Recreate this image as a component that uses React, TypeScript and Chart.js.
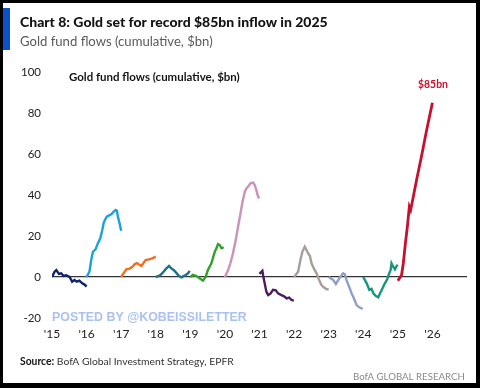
import React, { useEffect, useRef } from 'react';
import { Chart, registerables } from 'chart.js';

Chart.register(...registerables);

// ---- Text ----
const TITLE = 'Chart 8: Gold set for record $85bn inflow in 2025';
const SUBTITLE = 'Gold fund flows (cumulative, $bn)';
const INNER_TITLE = 'Gold fund flows (cumulative, $bn)';
const END_LABEL = '$85bn';
const WATERMARK = 'POSTED BY @KOBEISSILETTER';
const SOURCE_LABEL = 'Source:';
const SOURCE_TEXT = ' BofA Global Investment Strategy, EPFR';
const BRAND = 'BofA GLOBAL RESEARCH';

// ---- Axis ----
const X_MIN = 2015;
const X_MAX = 2027;
const Y_MIN = -20;
const Y_MAX = 100;
const Y_STEP = 20;

// ---- Data: months into each year, cumulative flows ($bn) ----
const months2015 = [0, 0.9, 1.5, 2.4, 3.2, 4.0, 4.9, 6.1, 7.0, 7.8, 8.6, 9.5, 10.5, 11.3, 12];
const flows2015 = [0, 2.6, 3.4, 1.5, 1.8, 0.5, 0.8, 0, -2.3, -1.5, -2.3, -1.8, -3.1, -3.7, -4.7];

const months2016 = [0, 1.0, 1.6, 2.2, 3.1, 3.9, 4.75, 5.45, 5.9, 6.35, 7.0, 8.0, 8.7, 9.4, 10.1, 10.5, 11.0, 11.45, 12];
const flows2016 = [0, 2.6, 8.3, 12.3, 13.5, 16.4, 18.9, 22.9, 26.2, 27.8, 29.4, 30.2, 30.7, 31.9, 32.7, 32.4, 28.6, 26.2, 22.6];

const months2017 = [0, 0.8, 1.8, 2.9, 3.9, 4.7, 5.5, 6.4, 7.1, 7.8, 8.5, 9.6, 10.8, 12];
const flows2017 = [0, 1.8, 3.7, 4.1, 5.0, 6.3, 6.8, 5.9, 5.4, 7.0, 8.3, 8.6, 9.1, 9.9];

const months2018 = [0, 1.1, 1.9, 2.7, 3.7, 4.6, 5.4, 6.2, 7.15, 8.05, 8.9, 9.45, 10.4, 11.2, 11.8];
const flows2018 = [0, 0.5, 1.3, 2.6, 4.2, 5.4, 4.2, 3.4, 2.0, 0.5, -0.2, 0.3, 1.0, 1.8, 3.0];

const months2019 = [0, 0.9, 2.1, 3.2, 4.4, 5.3, 6.1, 7.3, 7.9, 8.5, 9.05, 9.6, 10.2, 10.8, 11.6];
const flows2019 = [0, 1.0, 0.5, -0.6, -1.8, 0, 3.4, 6.7, 9.6, 12.4, 14.0, 16.1, 15.6, 14.0, 14.5];

const months2020 = [0, 1.1, 1.9, 2.8, 3.75, 4.55, 5.4, 6.1, 6.9, 7.5, 8.0, 8.9, 9.8, 10.35, 10.9, 11.5, 12];
const flows2020 = [0, 3.4, 6.7, 11.6, 18, 24.5, 31, 36.7, 41.6, 43.3, 44, 45.7, 46, 44.9, 42.4, 39.2, 38.4];

const months2021 = [0, 1.0, 1.3, 1.8, 2.4, 3.0, 3.8, 4.7, 5.65, 6.45, 7.6, 8.4, 9.4, 10.3, 11.1, 11.9];
const flows2021 = [1.5, 3.0, 0.5, -3.1, -7.2, -8.8, -8.1, -6.3, -6.5, -8, -8.8, -9.3, -10.4, -10, -11.2, -11.5];

const months2022 = [0, 1.4, 2.2, 2.9, 3.7, 4.3, 4.9, 5.5, 6.05, 6.85, 7.8, 8.7, 9.5, 10.3, 11.3, 12];
const flows2022 = [0, 2.6, 8.3, 12.4, 14.8, 13.2, 11.5, 10.2, 6.7, 4.2, 1.8, -1.5, -3.9, -5, -6, -6];

const months2023 = [0, 1.6, 2.5, 3.3, 4.1, 5.0, 5.6, 6.2, 7.1, 7.95, 8.75, 9.7, 10.6, 11.8];
const flows2023 = [0, -1.5, -3.4, -1.5, 0.2, 1.8, 1.3, -1.5, -4.7, -8, -10.4, -13.7, -14.8, -15.5];

const months2024 = [0, 1.2, 2.1, 2.9, 3.5, 4.4, 5.2, 5.8, 6.7, 7.5, 8.3, 9.0, 9.5, 9.8, 10.4, 11.0, 11.6, 12];
const flows2024 = [0, -3.1, -6.3, -5.8, -8, -9.3, -9.9, -8, -5.5, -3.1, -1.1, 1.8, 3.4, 6.7, 5, 3.7, 5.4, 5.9];

const months2025 = [0, 1.3, 1.9, 2.5, 3.3, 4.0, 4.45, 4.8, 6.5, 8.3, 10.0, 12];
const flows2025 = [-1.8, 1.0, 6.7, 14.8, 24.5, 34.3, 32.7, 35.1, 47.3, 59.5, 71.7, 85];

const YEARS = [2015, 2016, 2017, 2018, 2019, 2020, 2021, 2022, 2023, 2024, 2025];
const MONTHS = [months2015, months2016, months2017, months2018, months2019, months2020, months2021, months2022, months2023, months2024, months2025];
const FLOWS = [flows2015, flows2016, flows2017, flows2018, flows2019, flows2020, flows2021, flows2022, flows2023, flows2024, flows2025];
const COLORS = ['#14246b', '#1ba1e2', '#f07020', '#1f6f8b', '#34a02a', '#c994b8', '#4b1c5c', '#a89e99', '#8d9ec8', '#16977b', '#c8102e'];

type Part = { text: string; weight: string };

function drawFitted(
  ctx: CanvasRenderingContext2D,
  parts: Part[],
  family: string,
  x: number,
  y: number,
  width: number,
  colors: string[]
) {
  let total = 0;
  for (const p of parts) {
    ctx.font = `${p.weight} 100px ${family}`;
    total += ctx.measureText(p.text).width;
  }
  const size = (100 * width) / total;
  let cx = x;
  ctx.textBaseline = 'middle';
  ctx.textAlign = 'left';
  parts.forEach((p, i) => {
    ctx.font = `${p.weight} ${size}px ${family}`;
    ctx.fillStyle = colors[i] || colors[0];
    ctx.fillText(p.text, cx, y);
    cx += ctx.measureText(p.text).width;
  });
}

const framePlugin = {
  id: 'frame',
  beforeDraw(chart: any) {
    const ctx: CanvasRenderingContext2D = chart.ctx;
    const w = chart.width;
    const h = chart.height;
    ctx.save();
    ctx.fillStyle = '#000';
    ctx.fillRect(0, 0, w, h);
    ctx.fillStyle = '#fff';
    ctx.fillRect(3, 3, w - 7, h - 8);
    ctx.fillStyle = '#0b50cc';
    ctx.fillRect(3, 8, 7, 42);
    ctx.restore();
  },
  afterDraw(chart: any) {
    const ctx: CanvasRenderingContext2D = chart.ctx;
    ctx.save();
    drawFitted(ctx, [{ text: TITLE, weight: '900' }], 'Lato', 20, 22, 308, ['#141414']);
    drawFitted(ctx, [{ text: SUBTITLE, weight: 'normal' }], 'Lato', 20, 42, 193, ['#5a5a5a']);
    drawFitted(ctx, [{ text: INNER_TITLE, weight: 'bold' }], 'Lato', 69, 77, 171, ['#141414']);
    drawFitted(ctx, [{ text: END_LABEL, weight: 'bold' }], 'Lato', 418, 85, 30, ['#c8102e']);
    drawFitted(ctx, [{ text: WATERMARK, weight: 'bold' }], '"Liberation Sans"', 52, 318, 195, ['#aac1f3']);
    drawFitted(
      ctx,
      [
        { text: SOURCE_LABEL, weight: 'bold' },
        { text: SOURCE_TEXT, weight: 'normal' },
      ],
      'Lato',
      20,
      362,
      214,
      ['#141414', '#333333']
    );
    drawFitted(ctx, [{ text: BRAND, weight: 'normal' }], 'Lato', 353, 377, 112, ['#8a8a8a']);
    ctx.restore();
  },
};

export default function App() {
  const ref = useRef<HTMLCanvasElement | null>(null);

  useEffect(() => {
    document.body.style.margin = '0';
    const canvas = ref.current;
    if (!canvas) return;

    const datasets = YEARS.map((year, i) => ({
      label: String(year),
      data: MONTHS[i].map((m, j) => ({ x: year + m / 12, y: FLOWS[i][j] })),
      borderColor: COLORS[i],
      backgroundColor: COLORS[i],
      borderWidth: year === 2025 ? 2.8 : 2.4,
      pointRadius: 0,
      fill: false,
      tension: 0,
    }));

    const chart = new Chart(canvas, {
      type: 'line',
      data: { datasets },
      options: {
        animation: false,
        responsive: false,
        devicePixelRatio: 1,
        layout: { padding: { top: 72, right: 13, bottom: 0, left: 0 } },
        plugins: {
          legend: { display: false },
          tooltip: { enabled: false },
          title: { display: false },
        },
        scales: {
          x: {
            type: 'linear',
            min: X_MIN,
            max: X_MAX,
            grid: { display: false, drawTicks: false },
            border: { display: false },
            ticks: {
              stepSize: 1,
              autoSkip: false,
              maxRotation: 0,
              padding: 9,
              color: '#222',
              font: { family: 'Lato', size: 12 },
              callback: (v: any) => (Number(v) >= X_MAX ? '' : "'" + String(v).slice(2)),
            },
            afterFit: (s: any) => {
              s.height = 70;
            },
          },
          y: {
            min: Y_MIN,
            max: Y_MAX,
            grid: {
              drawTicks: false,
              lineWidth: 1.3,
              color: (c: any) => (c.tick && c.tick.value === 0 ? '#333' : 'rgba(0,0,0,0)'),
            },
            border: { display: false },
            ticks: {
              stepSize: Y_STEP,
              padding: 11,
              color: '#222',
              font: { family: 'Lato', size: 11.5 },
            },
            afterFit: (s: any) => {
              s.width = 52;
            },
          },
        },
      },
      plugins: [framePlugin],
    });

    return () => chart.destroy();
  }, []);

  return <canvas ref={ref} width={480} height={388} style={{ display: 'block' }} />;
}
